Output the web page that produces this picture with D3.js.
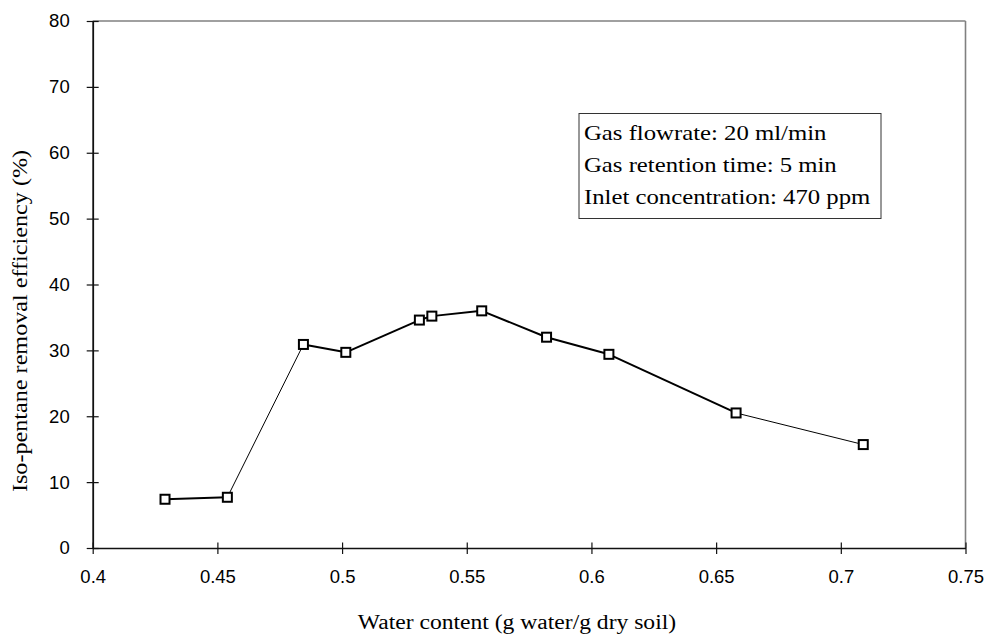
<!DOCTYPE html>
<html>
<head>
<meta charset="utf-8">
<script src="https://cdn.jsdelivr.net/npm/d3@7"></script>
<style>
  html, body { margin: 0; padding: 0; background: #fff; }
  svg { display: block; }
</style>
</head>
<body>
<svg id="chart" width="985" height="640"></svg>
<script>
// Iso-pentane removal efficiency versus soil water content
const waterContent = [0.429, 0.454, 0.4845, 0.5015, 0.531, 0.536, 0.556, 0.582, 0.607, 0.658, 0.709];
const efficiency   = [7.4, 7.7, 30.9, 29.7, 34.6, 35.2, 36.0, 32.0, 29.4, 20.5, 15.7];
const xTicks = [0.4, 0.45, 0.5, 0.55, 0.6, 0.65, 0.7, 0.75];
const yTicks = [0, 10, 20, 30, 40, 50, 60, 70, 80];
const conditions = [
  "Gas flowrate: 20 ml/min",
  "Gas retention time: 5 min",
  "Inlet concentration: 470 ppm"
];

// segments (by starting index) drawn with a hairline instead of the bold stroke
const thinSegments = new Set([1, 9]);

const svg = d3.select("#chart");
const plotLeft = 92.7, plotRight = 965.5, plotTop = 21, plotBottom = 548;

const x = d3.scaleLinear().domain([0.4, 0.75]).range([plotLeft, plotRight]);
const y = d3.scaleLinear().domain([0, 80]).range([plotBottom, plotTop]);

const sansFont = "'Liberation Sans', Arial, sans-serif";
const serifFont = "'Liberation Serif', 'Times New Roman', serif";

// the serif captions are set slightly wide
const WIDEN = 1.15;
function widen(sel) {
  sel.each(function () {
    const len = this.getComputedTextLength();
    d3.select(this).attr("textLength", len * WIDEN).attr("lengthAdjust", "spacingAndGlyphs");
  });
}

// top and right frame
svg.append("line").attr("x1", plotLeft).attr("x2", plotRight).attr("y1", plotTop).attr("y2", plotTop)
  .attr("stroke", "#808080").attr("stroke-width", 1.6);
svg.append("line").attr("x1", plotRight).attr("x2", plotRight).attr("y1", plotTop).attr("y2", plotBottom)
  .attr("stroke", "#808080").attr("stroke-width", 1.6);

// x axis
const xAxis = svg.append("g").attr("transform", `translate(0,${plotBottom})`)
  .call(d3.axisBottom(x).tickValues(xTicks).tickFormat(d => String(+d.toFixed(2)))
    .tickSizeInner(6).tickSizeOuter(0).tickPadding(16));
xAxis.select(".domain").attr("stroke", "#111").attr("stroke-width", 1.5);
xAxis.selectAll(".tick line").attr("stroke", "#111").attr("stroke-width", 1.2)
  .attr("y1", -5.5).attr("y2", 6);
xAxis.selectAll(".tick text").attr("font-family", sansFont).attr("font-size", 18.5)
  .attr("fill", "#000");

// y axis
const yAxis = svg.append("g").attr("transform", `translate(${plotLeft},0)`)
  .call(d3.axisLeft(y).tickValues(yTicks).tickFormat(d3.format("d"))
    .tickSizeInner(6).tickSizeOuter(0).tickPadding(17));
yAxis.select(".domain").attr("stroke", "#111").attr("stroke-width", 1.8);
yAxis.selectAll(".tick line").attr("stroke", "#111").attr("stroke-width", 1.2)
  .attr("x1", 6).attr("x2", -6);
yAxis.selectAll(".tick text").attr("font-family", sansFont).attr("font-size", 18.5)
  .attr("fill", "#000");

// axis titles
svg.append("text").attr("x", 517).attr("y", 629).attr("text-anchor", "middle")
  .attr("font-family", serifFont).attr("font-size", 20.5).attr("fill", "#000")
  .text("Water content (g water/g dry soil)")
  .call(widen);
svg.append("text").attr("transform", "translate(27,321) rotate(-90)")
  .attr("text-anchor", "middle")
  .attr("font-family", serifFont).attr("font-size", 21).attr("fill", "#000")
  .text("Iso-pentane removal efficiency (%)")
  .call(widen);

// connecting line, segment by segment
const points = waterContent.map((w, i) => ({ w, e: efficiency[i] }));
const segs = d3.pairs(points).map((p, i) => ({ a: p[0], b: p[1], i }));
svg.append("g").selectAll("line").data(segs).join("line")
  .attr("x1", d => x(d.a.w)).attr("y1", d => y(d.a.e))
  .attr("x2", d => x(d.b.w)).attr("y2", d => y(d.b.e))
  .attr("stroke", "#000")
  .attr("stroke-width", d => thinSegments.has(d.i) ? 1 : 2);

// square markers
const m = 9;
svg.append("g").selectAll("rect").data(points).join("rect")
  .attr("x", d => x(d.w) - m / 2).attr("y", d => y(d.e) - m / 2)
  .attr("width", m).attr("height", m)
  .attr("fill", "#fff").attr("stroke", "#000").attr("stroke-width", 2);

// conditions box
const box = svg.append("g");
box.append("rect").attr("x", 579).attr("y", 113.5).attr("width", 302).attr("height", 105)
  .attr("fill", "#fff").attr("stroke", "#333").attr("stroke-width", 1);
box.selectAll("text").data(conditions).join("text")
  .attr("x", 584).attr("y", (d, i) => 140 + i * 32)
  .attr("font-family", serifFont).attr("font-size", 21.5).attr("fill", "#000")
  .text(d => d)
  .call(widen);
</script>
</body>
</html>
